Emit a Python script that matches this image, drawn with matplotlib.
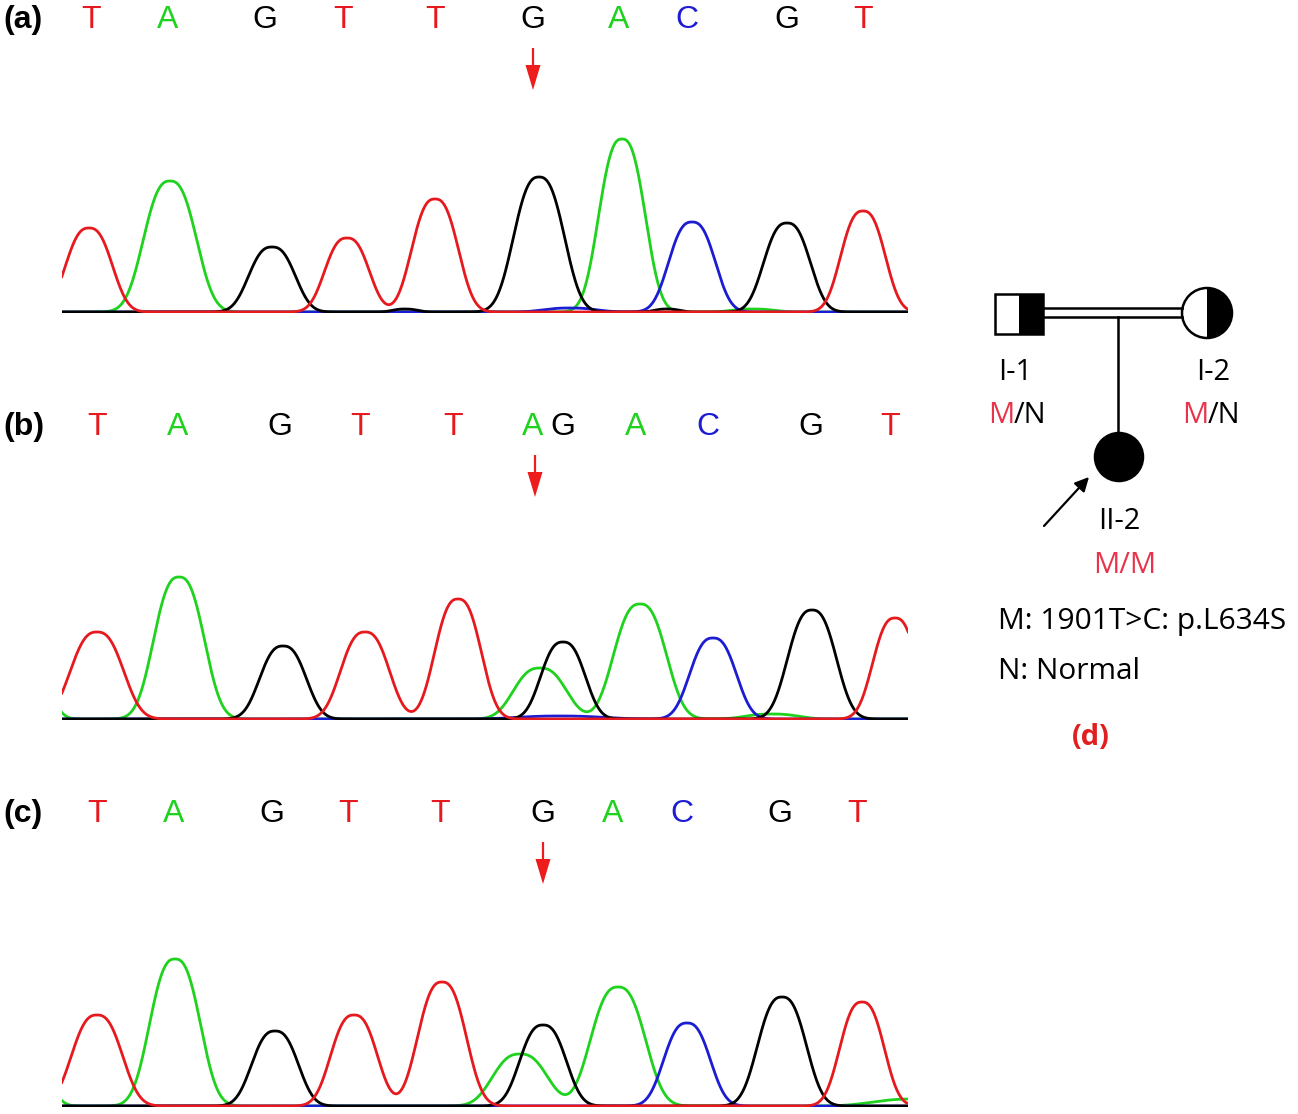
import numpy as np
import matplotlib
matplotlib.use("Agg")
import matplotlib.pyplot as plt
from matplotlib.patches import Rectangle, Circle, Wedge

W, H = 1298, 1114

# ---------------- data ----------------
BASE_COLORS = {"A": "#1ed21e", "C": "#1c1cd2", "G": "#000000", "T": "#e61a1e"}

# panel (a)
a_calls = ["T", "A", "G", "T", "T", "G", "A", "C", "G", "T"]
a_call_x = [91, 168, 265, 343, 435, 533, 619, 687, 787, 863]
a_peak_base = ["T", "A", "G", "T", "T", "G", "A", "C", "G", "T", "G", "C", "G", "A"]
a_peak_x = [89, 170, 272, 347, 435, 539, 622, 692, 787, 863, 405, 570, 667, 753]
a_peak_h = [84, 131, 65, 74, 113, 135, 173, 90, 89, 101, 3, 4, 3, 3]
a_peak_w = [22, 25, 22, 21, 22, 24, 22, 22, 22, 21, 12, 25, 12, 20]
a_arrow_x = 533

# panel (b)
b_calls = ["T", "A", "G", "T", "T", "A", "G", "A", "C", "G", "T"]
b_call_x = [97, 178, 280, 360, 453, 533, 563, 636, 708, 811, 890]
b_peak_base = ["A", "T", "A", "G", "T", "T", "A", "G", "A", "C", "G", "T", "A", "C"]
b_peak_x = [30, 97, 179, 283, 365, 458, 540, 563, 640, 713, 812, 895, 772, 560]
b_peak_h = [60, 87, 142, 73, 87, 120, 51, 77, 115, 81, 109, 101, 5, 3]
b_peak_w = [18, 25, 24, 22, 23, 22, 25, 21, 25, 22, 23, 21, 25, 40]
b_arrow_x = 535

# panel (c)
c_calls = ["T", "A", "G", "T", "T", "G", "A", "C", "G", "T"]
c_call_x = [97, 174, 272, 348, 440, 543, 613, 682, 780, 857]
c_peak_base = ["A", "T", "A", "G", "T", "T", "A", "G", "A", "C", "G", "T", "A"]
c_peak_x = [30, 97, 175, 275, 354, 442, 520, 543, 618, 687, 782, 862, 915]
c_peak_h = [50, 91, 147, 75, 91, 124, 52, 81, 119, 83, 109, 104, 7]
c_peak_w = [18, 24, 24, 22, 22, 23, 26, 22, 26, 22, 23, 21, 40]
c_arrow_x = 543

panel_labels = ["(a)", "(b)", "(c)"]
panel_baseline_px = [313, 720, 1107]

# pedigree (d)
ped_ids = ["I-1", "I-2", "II-2"]
ped_genotypes = [("M", "/N"), ("M", "/N"), ("M/M", "")]
legend_lines = ["M: 1901T>C: p.L634S", "N: Normal"]

# ---------------- figure ----------------
fig = plt.figure(figsize=(W / 100, H / 100), dpi=100)
fig.patch.set_facecolor("white")

X0, X1 = 62, 908
PANEL_H = 313
xs = np.linspace(X0 - 5, X1 + 5, 3000)


def trace(bases, px, ph, pw, base):
    y = np.zeros_like(xs)
    for b, c, h, w in zip(bases, px, ph, pw):
        if b == base:
            y += h * np.exp(-0.5 * np.abs((xs - c) / w) ** 2.6)
    return y


panels = [
    (a_calls, a_call_x, a_peak_base, a_peak_x, a_peak_h, a_peak_w, a_arrow_x),
    (b_calls, b_call_x, b_peak_base, b_peak_x, b_peak_h, b_peak_w, b_arrow_x),
    (c_calls, c_call_x, c_peak_base, c_peak_x, c_peak_h, c_peak_w, c_arrow_x),
]

for i, (calls, callx, pb, px, ph, pw, arx) in enumerate(panels):
    base_px = panel_baseline_px[i]
    ax = fig.add_axes([X0 / W, 1 - base_px / H, (X1 - X0) / W, PANEL_H / H])
    ax.set_xlim(X0, X1)
    ax.set_ylim(-1, PANEL_H - 1)
    ax.axis("off")
    for base, z in [("G", 4), ("C", 3), ("A", 2), ("T", 5)]:
        ax.plot(xs, trace(pb, px, ph, pw, base), color=BASE_COLORS[base],
                lw=2.0, zorder=z, solid_joinstyle="round")
    for letter, lx in zip(calls, callx):
        ax.text(lx, 284, letter, color=BASE_COLORS[letter], fontsize=23,
                family="Liberation Sans", ha="center", va="baseline",
                clip_on=False)
    ax.text(3, 284, panel_labels[i], fontsize=23, fontweight="bold",
            family="Liberation Sans", ha="left", va="baseline", clip_on=False)
    ax.arrow(arx, 264, 0, -42, width=2.2, head_width=15, head_length=25,
             length_includes_head=True, color="#ee1c1c", lw=0, clip_on=False)

# ---------------- pedigree ----------------
pax = fig.add_axes([960 / W, 1 - 760 / H, (W - 960) / W, 500 / H])
pax.set_xlim(960, W)
pax.set_ylim(760, 260)
pax.set_aspect("equal")
pax.axis("off")

LW = 1.8
# I-1 square, right half black
pax.add_patch(Rectangle((995, 294), 24, 40, facecolor="white", edgecolor="none"))
pax.add_patch(Rectangle((1019, 294), 24, 40, facecolor="black", edgecolor="none"))
pax.add_patch(Rectangle((995, 294), 48, 40, facecolor="none", edgecolor="black", lw=LW))
# marriage double line
pax.plot([1043, 1182], [308, 308], color="black", lw=LW)
pax.plot([1043, 1182], [317, 317], color="black", lw=LW)
# I-2 circle, right half black
pax.add_patch(Circle((1207, 313), 25, facecolor="white", edgecolor="none"))
pax.add_patch(Wedge((1207, 313), 25, -90, 90, facecolor="black", edgecolor="none"))
pax.add_patch(Circle((1207, 313), 25, facecolor="none", edgecolor="black", lw=LW))
# descent line and II-2
pax.plot([1118, 1118], [317, 434], color="black", lw=LW)
pax.add_patch(Circle((1119, 457), 24, facecolor="black", edgecolor="black", lw=LW))
# proband arrow
pax.annotate("", xy=(1089, 477), xytext=(1044, 526),
             arrowprops=dict(arrowstyle="-|>,head_length=0.6,head_width=0.3",
                             color="black", lw=1.6, mutation_scale=14,
                             shrinkA=0, shrinkB=0))

TF = "Open Sans"
RED = "#e8334a"
FS = 21
pax.text(1015, 380, ped_ids[0], fontsize=FS, family=TF, ha="center", va="baseline")
pax.text(1213, 380, ped_ids[1], fontsize=FS, family=TF, ha="center", va="baseline")
pax.text(1119, 529, ped_ids[2], fontsize=FS, family=TF, ha="center", va="baseline")

pax.text(1014, 423, ped_genotypes[0][0], fontsize=FS, family=TF, color=RED,
         ha="right", va="baseline")
pax.text(1014, 423, ped_genotypes[0][1], fontsize=FS, family=TF, color="black",
         ha="left", va="baseline")
pax.text(1208, 423, ped_genotypes[1][0], fontsize=FS, family=TF, color=RED,
         ha="right", va="baseline")
pax.text(1208, 423, ped_genotypes[1][1], fontsize=FS, family=TF, color="black",
         ha="left", va="baseline")
pax.text(1125, 573, ped_genotypes[2][0], fontsize=FS, family=TF, color=RED,
         ha="center", va="baseline")

pax.text(998, 629, legend_lines[0], fontsize=21.5, family=TF, ha="left", va="baseline")
pax.text(998, 679, legend_lines[1], fontsize=21.5, family=TF, ha="left", va="baseline")
pax.text(1091, 745, "(d)", fontsize=21, family=TF, fontweight="bold",
         color="#e02020", ha="center", va="baseline")

fig.savefig("out.png", dpi=100, facecolor="white")
